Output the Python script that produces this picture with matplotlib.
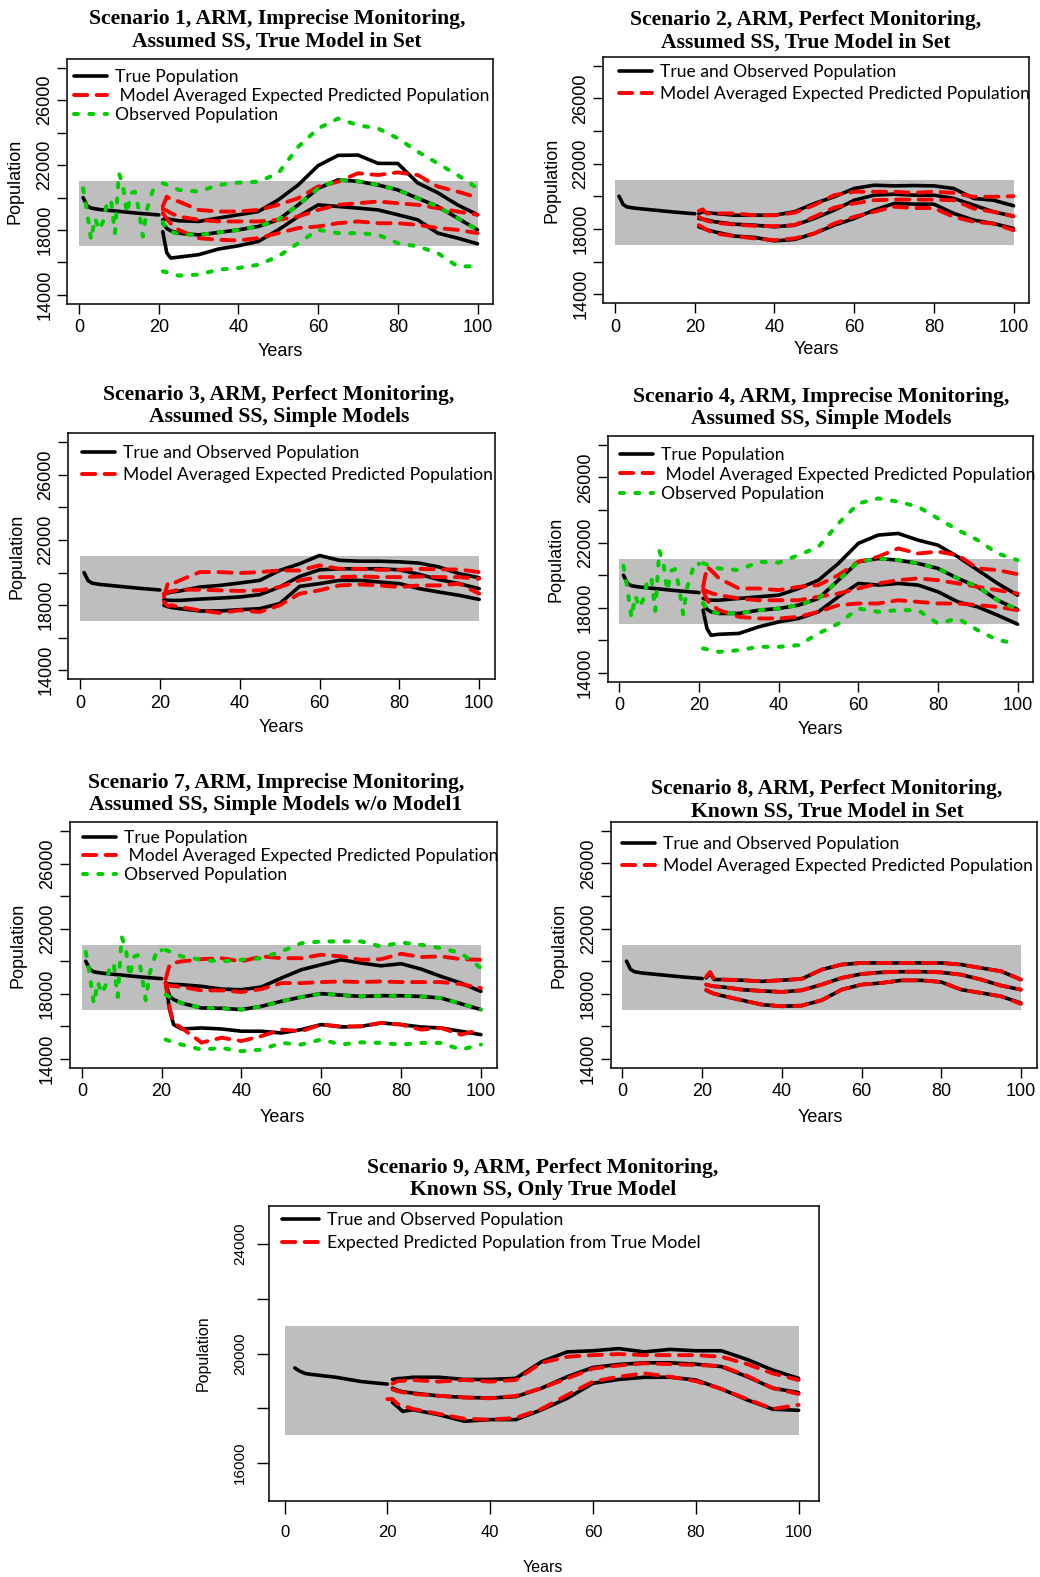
import matplotlib
matplotlib.use("Agg")
import matplotlib.pyplot as plt

W, H = 1040, 1577

# ---------------- data ----------------
band_x = [0, 100]
band_lo, band_hi = 17000, 21000

years_pre = [1, 2, 3, 5, 10, 15, 20]
true_pre = [20000, 19500, 19350, 19270, 19150, 19030, 18930]
obs_years_pre = list(range(1, 21))
obs_pre = [20570, 19140, 17400, 18730, 18010, 18530, 19650, 19860, 17810, 21500,
           20780, 19040, 20270, 20370, 19240, 17600, 19240, 20060, 20780, 20680]

years = [21, 22, 23, 25, 30, 35, 40, 45, 50, 55, 60, 65, 70, 75, 80, 85, 90, 95, 100]

# Scenario 1
s1_true_hi = [18630, 18700, 18650, 18570, 18530, 18740, 18940, 19140, 19860, 20780, 21970, 22600, 22620, 22110, 22100, 20900, 20300, 19550, 18940]
s1_true_mid = [18420, 18100, 17950, 17800, 17700, 17850, 18010, 18220, 18630, 19550, 20570, 21090, 21000, 20780, 20470, 19960, 19450, 18730, 18010]
s1_true_lo = [17900, 16600, 16270, 16330, 16480, 16830, 17030, 17300, 18010, 18830, 19550, 19450, 19350, 19240, 18940, 18630, 17810, 17500, 17150]
s1_pred_hi = [19450, 20060, 19900, 19760, 19240, 19140, 19140, 19240, 19550, 19960, 20680, 20980, 21500, 21390, 21550, 21390, 20680, 20370, 20000]
s1_pred_mid = [19280, 19200, 19050, 18830, 18630, 18530, 18530, 18530, 18630, 18830, 19240, 19550, 19650, 19760, 19650, 19550, 19350, 19140, 18940]
s1_pred_lo = [19040, 18700, 18400, 18010, 17500, 17400, 17360, 17500, 17810, 18120, 18220, 18420, 18530, 18420, 18420, 18320, 18120, 18010, 17810]
s1_obs_hi = [20880, 20800, 20700, 20470, 20370, 20780, 20920, 20980, 21500, 23130, 24260, 24870, 24460, 24260, 23650, 22830, 22110, 21390, 20570]
s1_obs_mid = [18500, 18050, 17900, 17750, 17700, 17850, 18000, 18220, 18630, 19550, 20570, 21090, 21000, 20780, 20470, 19960, 19450, 18730, 18010]
s1_obs_lo = [15450, 15400, 15300, 15190, 15250, 15560, 15660, 15860, 16380, 17190, 18010, 17810, 17810, 17710, 17190, 16990, 16580, 15760, 15760]

# Scenario 2
s2_true_hi = [18950, 19050, 19000, 18950, 18840, 18840, 18840, 19050, 19560, 19970, 20480, 20680, 20640, 20660, 20640, 20480, 19870, 19760, 19420]
s2_true_mid = [18640, 18600, 18550, 18440, 18290, 18230, 18130, 18230, 18640, 19150, 19760, 20070, 20130, 20070, 20070, 19870, 19460, 19050, 18780]
s2_true_lo = [18130, 18050, 17950, 17820, 17560, 17480, 17270, 17350, 17720, 18230, 18640, 19150, 19560, 19520, 19520, 18950, 18540, 18330, 18030]
s2_pred_hi = [19100, 19200, 18950, 18950, 18950, 18840, 18840, 18990, 19460, 20070, 20280, 20280, 20280, 20210, 20280, 20210, 19970, 19970, 20010]
s2_pred_mid = [18740, 18600, 18500, 18380, 18270, 18190, 18170, 18230, 18740, 19310, 19560, 19760, 19800, 19800, 19800, 19760, 19250, 19050, 18780]
s2_pred_lo = [18230, 18100, 17950, 17720, 17560, 17420, 17310, 17420, 17720, 18330, 18740, 19050, 19360, 19280, 19280, 18740, 18440, 18330, 17920]

# Scenario 3
s3_true_hi = [18700, 18750, 18800, 18870, 19110, 19210, 19360, 19520, 20130, 20540, 21050, 20750, 20700, 20700, 20660, 20580, 20340, 19930, 19680]
s3_true_mid = [18330, 18300, 18290, 18290, 18370, 18430, 18500, 18640, 19110, 19760, 20170, 20230, 20230, 20230, 20170, 19890, 19560, 19320, 19010]
s3_true_lo = [17990, 17900, 17850, 17780, 17640, 17640, 17720, 17780, 18090, 19150, 19320, 19520, 19520, 19420, 19320, 19010, 18800, 18600, 18350]
s3_pred_hi = [18500, 19360, 19300, 19520, 20030, 20030, 19970, 20030, 20130, 20130, 20440, 20230, 20230, 20170, 20170, 20230, 20190, 20190, 20030]
s3_pred_mid = [18700, 18800, 18850, 18950, 18950, 18910, 18870, 18910, 19110, 19520, 19720, 19720, 19760, 19720, 19720, 19760, 19720, 19720, 19620]
s3_pred_lo = [18190, 17950, 17990, 17880, 17680, 17520, 17680, 17580, 17990, 18700, 18910, 19210, 19270, 19210, 19110, 19210, 19210, 19320, 18700]

# Scenario 4
s4_true_hi = [18570, 18500, 18460, 18460, 18570, 18670, 18770, 19180, 19690, 20720, 21950, 22460, 22560, 22150, 21840, 21130, 20310, 19490, 18770]
s4_true_mid = [18260, 17900, 17750, 17650, 17650, 17850, 17950, 18160, 18570, 19690, 20820, 21020, 20920, 20720, 20410, 19800, 19280, 18460, 17890]
s4_true_lo = [17850, 16700, 16310, 16370, 16420, 16830, 17130, 17340, 17750, 18670, 19490, 19390, 19490, 19390, 18980, 18360, 18050, 17540, 16990]
s4_pred_hi = [19280, 20510, 20300, 19800, 19180, 19180, 19080, 19280, 19390, 20000, 20820, 21130, 21640, 21330, 21440, 21230, 20410, 20310, 20060]
s4_pred_mid = [19120, 19000, 18900, 18770, 18570, 18460, 18460, 18460, 18670, 18870, 19180, 19490, 19690, 19800, 19690, 19490, 19280, 19080, 18870]
s4_pred_lo = [19080, 18460, 18200, 17850, 17440, 17340, 17340, 17440, 17750, 18160, 18260, 18260, 18460, 18360, 18260, 18260, 18160, 18050, 17850]
s4_obs_hi = [20720, 20650, 20550, 20410, 20310, 20820, 20770, 21230, 21740, 23170, 24400, 24710, 24510, 24200, 23480, 22770, 22150, 21330, 20920]
s4_obs_mid = [18300, 17900, 17750, 17650, 17650, 17850, 17950, 18160, 18570, 19690, 20820, 21020, 20920, 20720, 20410, 19800, 19280, 18460, 17890]
s4_obs_lo = [15500, 15450, 15400, 15290, 15390, 15600, 15600, 15700, 16420, 17030, 17950, 17750, 17850, 17850, 17030, 17340, 16620, 16010, 15800]

# Scenario 7
s7_true_hi = [18660, 18600, 18580, 18560, 18460, 18290, 18250, 18420, 18970, 19480, 19790, 20090, 19890, 19720, 19850, 19520, 19070, 18660, 18150]
s7_true_mid = [18660, 17840, 17650, 17430, 17130, 17110, 17030, 17230, 17540, 17800, 18010, 17920, 17840, 17880, 17880, 17840, 17740, 17390, 17030]
s7_true_lo = [18660, 17030, 16110, 15840, 15900, 15840, 15700, 15700, 15590, 15800, 16110, 15960, 16000, 16210, 16110, 15960, 15900, 15700, 15490]
s7_pred_hi = [18900, 19790, 19900, 19990, 20130, 20190, 19990, 20300, 20190, 20190, 20400, 20300, 20090, 20130, 20460, 20260, 20300, 20130, 20090]
s7_pred_mid = [18560, 18500, 18480, 18420, 18210, 18210, 18110, 18290, 18660, 18660, 18720, 18760, 18720, 18760, 18720, 18720, 18720, 18600, 18350]
s7_pred_lo = [18660, 17130, 16210, 15900, 15000, 15300, 15100, 15400, 15800, 15700, 16110, 16000, 16000, 16210, 16110, 15800, 15900, 15490, 15800]
s7_obs_hi = [20700, 20600, 20500, 20300, 20090, 19990, 20090, 20190, 20600, 21110, 21220, 21220, 21220, 20910, 21150, 21010, 20810, 20500, 19580]
s7_obs_mid = [17950, 17800, 17650, 17430, 17130, 17110, 17030, 17230, 17540, 17800, 18010, 17920, 17840, 17880, 17880, 17840, 17740, 17390, 17030]
s7_obs_lo = [15190, 15100, 15000, 14880, 14570, 14670, 14470, 14570, 14980, 14880, 15190, 14880, 15020, 14980, 14880, 14980, 14980, 14570, 14880]

# Scenario 8
s8_true_hi = [18970, 19230, 18870, 18870, 18830, 18760, 18830, 18910, 19480, 19790, 19890, 19890, 19890, 19890, 19890, 19790, 19580, 19380, 18870]
s8_true_mid = [18560, 18500, 18450, 18420, 18250, 18170, 18110, 18210, 18560, 18970, 19210, 19310, 19350, 19350, 19310, 19170, 18870, 18500, 18250]
s8_true_lo = [18210, 18100, 18000, 17880, 17600, 17330, 17230, 17270, 17600, 18250, 18560, 18660, 18820, 18820, 18720, 18250, 18050, 17840, 17430]
s8_pred_hi = [19050, 19330, 18900, 18870, 18830, 18760, 18830, 18910, 19480, 19790, 19890, 19890, 19890, 19890, 19890, 19790, 19580, 19380, 18870]
s8_pred_mid = [18560, 18500, 18450, 18420, 18250, 18170, 18110, 18210, 18560, 18970, 19210, 19310, 19350, 19350, 19310, 19170, 18870, 18500, 18250]
s8_pred_lo = [18250, 18100, 18000, 17880, 17600, 17330, 17230, 17270, 17600, 18250, 18560, 18660, 18820, 18820, 18720, 18250, 18050, 17840, 17380]

# Scenario 9
s9_years_pre = [2, 3, 4, 5, 10, 15, 20]
s9_true_pre = [19470, 19350, 19270, 19240, 19130, 18970, 18880]
s9_true_hi = [19050, 19080, 19090, 19130, 19130, 19050, 19050, 19090, 19700, 20060, 20100, 20180, 20060, 20150, 20100, 20100, 19780, 19390, 19090]
s9_true_mid = [18730, 18650, 18600, 18550, 18450, 18390, 18370, 18420, 18730, 19150, 19490, 19600, 19660, 19660, 19610, 19520, 19150, 18730, 18570]
s9_true_lo = [18210, 18050, 17880, 17940, 17760, 17520, 17580, 17580, 17940, 18360, 18910, 19050, 19130, 19130, 19030, 18700, 18300, 17960, 17920]
s9_pred_hi = [18900, 18990, 19000, 19030, 18970, 19030, 18970, 19030, 19660, 19880, 19940, 19980, 19940, 19940, 19940, 19880, 19610, 19270, 19030]
s9_pred_mid = [18690, 18620, 18580, 18520, 18450, 18390, 18360, 18450, 18730, 19090, 19450, 19560, 19640, 19610, 19580, 19540, 19180, 18730, 18520]
s9_years_pred_lo = [20, 21, 22, 25, 30, 35, 40, 45, 50, 55, 60, 65, 70, 75, 80, 85, 90, 95, 100]
s9_pred_lo = [18330, 18330, 18150, 17970, 17790, 17610, 17580, 17640, 17970, 18480, 18970, 19150, 19270, 19150, 18990, 18700, 18330, 17970, 18120]

titles = {
    1: "Scenario 1, ARM, Imprecise Monitoring,\nAssumed SS, True Model in Set",
    2: "Scenario 2, ARM, Perfect Monitoring,\nAssumed SS, True Model in Set",
    3: "Scenario 3, ARM, Perfect Monitoring,\nAssumed SS, Simple Models",
    4: "Scenario 4, ARM, Imprecise Monitoring,\nAssumed SS, Simple Models",
    7: "Scenario 7, ARM, Imprecise Monitoring,\nAssumed SS, Simple Models w/o Model1",
    8: "Scenario 8, ARM, Perfect Monitoring,\nKnown SS, True Model in Set",
    9: "Scenario 9, ARM, Perfect Monitoring,\nKnown SS, Only True Model",
}
lab_imprecise = ["True Population", " Model Averaged Expected Predicted Population", "Observed Population"]
lab_perfect = ["True and Observed Population", "Model Averaged Expected Predicted Population"]
lab_s9 = ["True and Observed Population", "Expected Predicted Population from True Model"]

# ---------------- styling ----------------
TICKF = "Liberation Sans"
TITLEF = "Liberation Serif"
LEGF = "Lato"
GRAY = "#BEBEBE"
BLACK_KW = dict(color="black", lw=2.6, solid_capstyle="round", solid_joinstyle="round")
RED_KW = dict(color="#FF0000", lw=2.8, dashes=(3.4, 2.4), dash_capstyle="round")
GREEN_KW = dict(color="#00CD00", lw=2.9, dashes=(1.0, 2.8), dash_capstyle="round")
TITLE_FS = 15.6
LEG_FS = 12.6
LEG_FS_PX = LEG_FS * 100 / 72
LEG_ROW = LEG_FS_PX * 0.95

fig = plt.figure(figsize=(W / 100, H / 100), dpi=100)


def rect(l, t, r, b):
    return [l / W, 1 - b / H, (r - l) / W, (b - t) / H]


def px(x, y):
    return x / W, 1 - y / H


def add_legend(ax, handles, labels, lx, ly, spacing, hl=1.9):
    bx, by = px(lx, ly - LEG_ROW / 2)
    ax.legend(handles, labels, loc="upper left", bbox_to_anchor=(bx, by),
              bbox_transform=fig.transFigure, frameon=False, borderpad=0, borderaxespad=0,
              handlelength=hl, handletextpad=0.46, labelspacing=(spacing - LEG_ROW) / LEG_FS_PX,
              prop=dict(family=LEGF, size=LEG_FS))


panels = [
    dict(num=1, box=(67.3, 58.7, 493.3, 304), title=(277, 30), ylab=(15, 181), xlab=(280, 352),
         pre=(years_pre, true_pre), obs_pre=obs_pre,
         true=(s1_true_hi, s1_true_mid, s1_true_lo), pred=(s1_pred_hi, s1_pred_mid, s1_pred_lo),
         obs=(s1_obs_hi, s1_obs_mid, s1_obs_lo), labels=lab_imprecise, leg=(74, 77, 19.7)),
    dict(num=2, box=(603.3, 56.7, 1029.3, 303.3), title=(806, 31), ylab=(552, 180), xlab=(816, 350),
         pre=(years_pre, true_pre), obs_pre=None,
         true=(s2_true_hi, s2_true_mid, s2_true_lo), pred=(s2_pred_hi, s2_pred_mid, s2_pred_lo),
         obs=None, labels=lab_perfect, leg=(619, 72, 23.3)),
    dict(num=3, box=(68.3, 433.3, 495, 679.3), title=(279, 406), ylab=(17, 556), xlab=(281, 727),
         pre=(years_pre, true_pre), obs_pre=None,
         true=(s3_true_hi, s3_true_mid, s3_true_lo), pred=(s3_pred_hi, s3_pred_mid, s3_pred_lo),
         obs=None, labels=lab_perfect, leg=(82, 453, 23.3)),
    dict(num=4, box=(607.7, 435.7, 1033.3, 682), title=(821, 408), ylab=(556, 559), xlab=(820, 730),
         pre=(years_pre, true_pre), obs_pre=obs_pre,
         true=(s4_true_hi, s4_true_mid, s4_true_lo), pred=(s4_pred_hi, s4_pred_mid, s4_pred_lo),
         obs=(s4_obs_hi, s4_obs_mid, s4_obs_lo), labels=lab_imprecise, leg=(620, 455, 20.5)),
    dict(num=7, box=(70, 822, 496.7, 1068), title=(276, 794), ylab=(18, 945), xlab=(282, 1117),
         pre=(years_pre, true_pre), obs_pre=obs_pre,
         true=(s7_true_hi, s7_true_mid, s7_true_lo), pred=(s7_pred_hi, s7_pred_mid, s7_pred_lo),
         obs=(s7_obs_hi, s7_obs_mid, s7_obs_lo), labels=lab_imprecise, leg=(83, 838, 19.3)),
    dict(num=8, box=(610.7, 821.7, 1036.7, 1068), title=(827, 800), ylab=(559, 945), xlab=(820, 1117),
         pre=(years_pre, true_pre), obs_pre=None,
         true=(s8_true_hi, s8_true_mid, s8_true_lo), pred=(s8_pred_hi, s8_pred_mid, s8_pred_lo),
         obs=None, labels=lab_perfect, leg=(622, 844, 22.7)),
]

for p in panels:
    l, t, r, b = p["box"]
    ax = fig.add_axes(rect(l, t, r, b))
    ax.set_xlim(-2.96, 103.96)
    ax.set_ylim(13440, 28560)
    ax.fill_between(band_x, band_lo, band_hi, color=GRAY, lw=0, zorder=1)
    h_true = ax.plot(p["pre"][0], p["pre"][1], zorder=3, **BLACK_KW)[0]
    for s in p["true"]:
        ax.plot(years, s, zorder=3, **BLACK_KW)
    h_pred = None
    for s in p["pred"]:
        h_pred = ax.plot(years, s, zorder=4, **RED_KW)[0]
    handles = [h_true, h_pred]
    if p["obs"] is not None:
        h_obs = ax.plot(obs_years_pre, p["obs_pre"], zorder=5, **GREEN_KW)[0]
        for s in p["obs"]:
            ax.plot(years, s, zorder=5, **GREEN_KW)
        handles.append(h_obs)
    ax.set_xticks([0, 20, 40, 60, 80, 100])
    ax.set_xticklabels(["0", "20", "40", "60", "80", "100"], fontfamily=TICKF, fontsize=13)
    yt = list(range(14000, 28001, 2000))
    ax.set_yticks(yt)
    ax.set_yticklabels([str(v) if (v - 14000) % 4000 == 0 else "" for v in yt],
                       fontfamily=TICKF, fontsize=13, rotation=90, va="center")
    ax.tick_params(axis="both", direction="out", length=7, width=1)
    ax.tick_params(axis="y", pad=3)
    ax.tick_params(axis="x", pad=4)
    for sp in ax.spines.values():
        sp.set_linewidth(1.1)
    fx, fy = px(*p["title"])
    fig.text(fx, fy, titles[p["num"]], ha="center", va="center", fontfamily=TITLEF,
             fontweight="bold", fontsize=TITLE_FS, linespacing=1.17)
    fx, fy = px(*p["ylab"])
    fig.text(fx, fy, "Population", rotation=90, ha="center", va="center", fontfamily=TICKF, fontsize=13)
    fx, fy = px(*p["xlab"])
    fig.text(fx, fy, "Years", ha="center", va="center", fontfamily=TICKF, fontsize=13)
    lx, ly, sp_ = p["leg"]
    add_legend(ax, handles, p["labels"], lx, ly, sp_)

# Scenario 9 panel
l, t, r, b = 269.3, 1206, 819, 1501
ax = fig.add_axes(rect(l, t, r, b))
ax.set_xlim(-2.96, 103.96)
ax.set_ylim(14600, 25400)
ax.fill_between(band_x, band_lo, band_hi, color=GRAY, lw=0, zorder=1)
h_true = ax.plot(s9_years_pre, s9_true_pre, zorder=3, **BLACK_KW)[0]
for s in (s9_true_hi, s9_true_mid, s9_true_lo):
    ax.plot(years, s, zorder=3, **BLACK_KW)
ax.plot(years, s9_pred_hi, zorder=4, **RED_KW)
ax.plot(years, s9_pred_mid, zorder=4, **RED_KW)
h_pred = ax.plot(s9_years_pred_lo, s9_pred_lo, zorder=4, **RED_KW)[0]
ax.set_xticks([0, 20, 40, 60, 80, 100])
ax.set_xticklabels(["0", "20", "40", "60", "80", "100"], fontfamily=TICKF, fontsize=12)
yt = [16000, 18000, 20000, 22000, 24000]
ax.set_yticks(yt)
ax.set_yticklabels(["16000", "", "20000", "", "24000"], fontfamily=TICKF, fontsize=11, rotation=90, va="center")
ax.tick_params(axis="both", direction="out", length=9, width=1)
ax.tick_params(axis="y", pad=7)
ax.tick_params(axis="x", pad=8)
for sp in ax.spines.values():
    sp.set_linewidth(1.1)
fx, fy = px(543, 1179)
fig.text(fx, fy, titles[9], ha="center", va="center", fontfamily=TITLEF, fontweight="bold",
         fontsize=TITLE_FS, linespacing=1.17)
fx, fy = px(203, 1353)
fig.text(fx, fy, "Population", rotation=90, ha="center", va="center", fontfamily=TICKF, fontsize=11.5)
fx, fy = px(543, 1567)
fig.text(fx, fy, "Years", ha="center", va="center", fontfamily=TICKF, fontsize=11.5)
add_legend(ax, [h_true, h_pred], lab_s9, 282, 1220, 24.3, hl=2.1)

fig.savefig("out.png", dpi=100)
